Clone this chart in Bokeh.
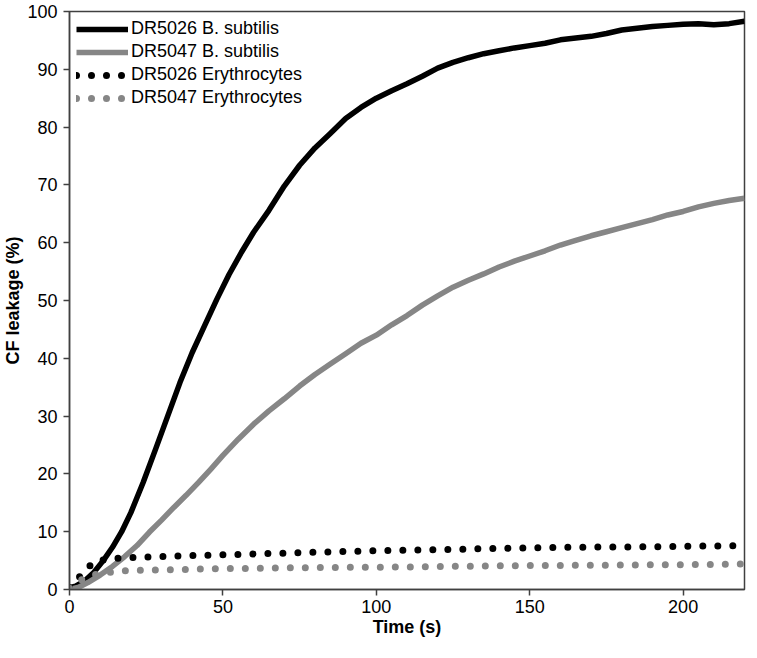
from bokeh.plotting import figure
from bokeh.models import Legend, LegendItem, FixedTicker, Range1d
from bokeh.embed import file_html
from bokeh.resources import INLINE

# ---- data ----
t_dr5026_bs = [0, 2, 5, 8, 11, 14, 17, 20, 24, 28, 32, 36, 40, 44, 48, 52, 56, 60, 65, 70,
               75, 80, 85, 90, 95, 100, 105, 110, 115, 120, 125, 130, 135, 140, 145, 150,
               155, 160, 165, 170, 175, 180, 185, 190, 195, 200, 205, 210, 215, 220]
y_dr5026_bs = [0.3, 0.6, 1.5, 3.0, 5.0, 7.3, 10.0, 13.3, 18.5, 24.2, 30.0, 35.8, 41.0, 45.6,
               50.2, 54.5, 58.3, 61.8, 65.6, 69.8, 73.4, 76.4, 78.9, 81.5, 83.4, 85.0, 86.3,
               87.5, 88.8, 90.2, 91.2, 92.0, 92.7, 93.2, 93.7, 94.1, 94.5, 95.1, 95.4, 95.7,
               96.2, 96.8, 97.1, 97.4, 97.6, 97.8, 97.9, 97.7, 97.9, 98.3]

t_dr5047_bs = [0, 3, 6, 10, 14, 18, 22, 26, 30, 34, 38, 42, 46, 50, 55, 60, 65, 70, 75, 80,
               85, 90, 95, 100, 105, 110, 115, 120, 125, 130, 135, 140, 145, 150, 155, 160,
               165, 170, 175, 180, 185, 190, 195, 200, 205, 210, 215, 220]
y_dr5047_bs = [0.0, 0.4, 1.2, 2.5, 4.0, 5.7, 7.6, 9.9, 12.0, 14.2, 16.3, 18.5, 20.8, 23.2,
               26.0, 28.6, 30.9, 33.0, 35.2, 37.2, 39.0, 40.8, 42.6, 44.0, 45.8, 47.4, 49.2,
               50.8, 52.3, 53.5, 54.6, 55.8, 56.8, 57.7, 58.6, 59.6, 60.4, 61.2, 61.9, 62.6,
               63.3, 64.0, 64.8, 65.4, 66.2, 66.8, 67.3, 67.7]

t_dr5026_ery = [0, 2, 5, 8, 12, 17, 25, 35, 50, 70, 100, 130, 160, 190, 220]
y_dr5026_ery = [0.3, 1.5, 3.2, 4.8, 5.2, 5.5, 5.6, 5.8, 6.0, 6.3, 6.7, 7.0, 7.3, 7.4, 7.6]

t_dr5047_ery = [0, 3, 6, 10, 15, 20, 30, 50, 80, 110, 140, 170, 200, 220]
y_dr5047_ery = [0.2, 1.4, 2.3, 2.8, 3.1, 3.3, 3.4, 3.6, 3.8, 3.9, 4.1, 4.2, 4.3, 4.4]

series_names = ["DR5026 B. subtilis", "DR5047 B. subtilis",
                "DR5026 Erythrocytes", "DR5047 Erythrocytes"]
x_ticks = [0, 50, 100, 150, 200]
y_ticks = [0, 10, 20, 30, 40, 50, 60, 70, 80, 90, 100]

FONT = "Liberation Sans"
AXIS_COLOR = "#404040"
GRAY = "#868686"

p = figure(width=748, height=642, output_backend="svg", toolbar_location=None,
           x_range=Range1d(0, 220), y_range=Range1d(0, 100),
           min_border_left=64, min_border_right=4, min_border_top=11, min_border_bottom=53)

p.background_fill_color = "white"
p.border_fill_color = "white"
p.outline_line_color = AXIS_COLOR
p.outline_line_width = 1.5
p.xgrid.visible = False
p.ygrid.visible = False

r1 = p.line(t_dr5026_bs, y_dr5026_bs, line_color="black", line_width=5.5, line_join="round")
r2 = p.line(t_dr5047_bs, y_dr5047_bs, line_color=GRAY, line_width=5.5, line_join="round")
r3 = p.line(t_dr5026_ery, y_dr5026_ery, line_color="black", line_width=7,
            line_dash="0 15", line_cap="round")
r4 = p.line(t_dr5047_ery, y_dr5047_ery, line_color=GRAY, line_width=7,
            line_dash="0 15", line_cap="round")

for ax in (p.xaxis[0], p.yaxis[0]):
    ax.axis_line_color = AXIS_COLOR
    ax.axis_line_width = 1.5
    ax.major_tick_line_color = AXIS_COLOR
    ax.major_tick_line_width = 1.5
    ax.major_tick_out = 6
    ax.major_tick_in = 0
    ax.minor_tick_line_color = None
    ax.major_label_text_font = FONT
    ax.major_label_text_font_size = "18px"
    ax.major_label_text_color = "black"
    ax.axis_label_text_font = FONT
    ax.axis_label_text_font_size = "18px"
    ax.axis_label_text_font_style = "bold"
    ax.axis_label_text_color = "black"

p.xaxis.ticker = FixedTicker(ticks=x_ticks)
p.yaxis.ticker = FixedTicker(ticks=y_ticks)
p.xaxis.axis_label = "Time (s)"
p.yaxis.axis_label = "CF leakage (%)"
p.xaxis.major_label_standoff = 4
p.xaxis.axis_label_standoff = 1
p.yaxis.major_label_standoff = 6
p.yaxis.axis_label_standoff = 1

legend = Legend(items=[LegendItem(label=n, renderers=[r]) for n, r in
                       zip(series_names, [r1, r2, r3, r4])],
                location="top_left", margin=7, padding=0, spacing=2,
                glyph_width=52, glyph_height=20, label_height=20, label_standoff=3,
                label_text_font=FONT, label_text_font_size="18px",
                label_text_color="black", border_line_color=None,
                background_fill_alpha=0)
p.add_layout(legend)

open("out.html", "w").write(file_html(p, INLINE))
